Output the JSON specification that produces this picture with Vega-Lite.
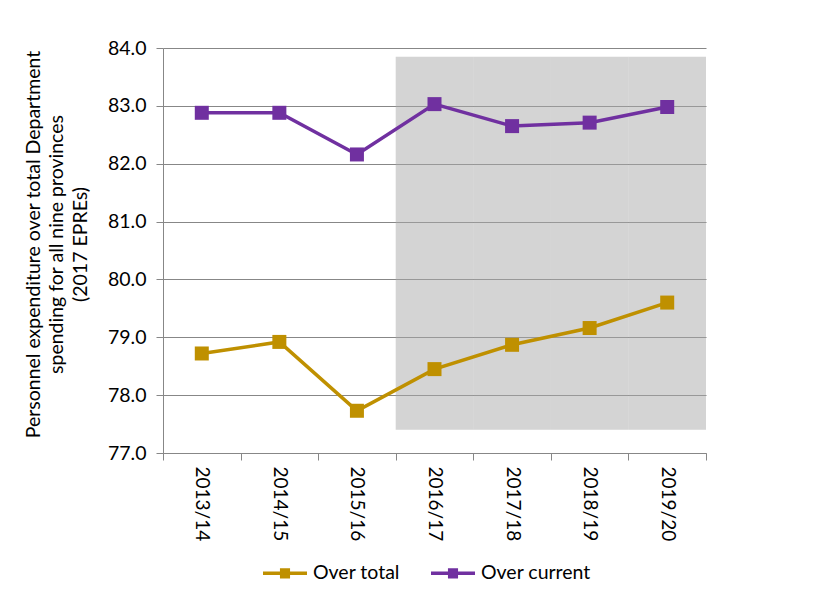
{
  "$schema": "https://vega.github.io/schema/vega-lite/v6.json",
  "width": 543,
  "height": 405,
  "autosize": "none",
  "padding": {"left": 163, "top": 48, "right": 123, "bottom": 143},
  "background": "white",
  "config": {
    "font": "Lato",
    "view": {"stroke": null},
    "axis": {
      "domainColor": "#878787",
      "tickColor": "#878787",
      "gridColor": "#878787",
      "gridOpacity": 1,
      "labelColor": "#000000",
      "titleColor": "#000000",
      "labelFontSize": 19.5,
      "labelFont": "Lato"
    }
  },
  "datasets": {
    "series": [
      {"year": "2013/14", "series": "Over total", "value": 78.72},
      {"year": "2014/15", "series": "Over total", "value": 78.92},
      {"year": "2015/16", "series": "Over total", "value": 77.73},
      {"year": "2016/17", "series": "Over total", "value": 78.45},
      {"year": "2017/18", "series": "Over total", "value": 78.87},
      {"year": "2018/19", "series": "Over total", "value": 79.16},
      {"year": "2019/20", "series": "Over total", "value": 79.6},
      {"year": "2013/14", "series": "Over current", "value": 82.88},
      {"year": "2014/15", "series": "Over current", "value": 82.88},
      {"year": "2015/16", "series": "Over current", "value": 82.16},
      {"year": "2016/17", "series": "Over current", "value": 83.03},
      {"year": "2017/18", "series": "Over current", "value": 82.65},
      {"year": "2018/19", "series": "Over current", "value": 82.71},
      {"year": "2019/20", "series": "Over current", "value": 82.98}
    ],
    "projection": [
      {"year": "2016/17"},
      {"year": "2017/18"},
      {"year": "2018/19"},
      {"year": "2019/20"}
    ]
  },
  "encoding": {
    "x": {
      "field": "year",
      "type": "nominal",
      "sort": null,
      "scale": {
        "type": "band",
        "paddingInner": 0,
        "paddingOuter": 0,
        "domain": ["2013/14", "2014/15", "2015/16", "2016/17", "2017/18", "2018/19", "2019/20"]
      },
      "axis": {
        "title": null,
        "labelAngle": 90,
        "labelFontSize": 19,
        "tickBand": "extent",
        "tickSize": 7,
        "labelPadding": 6,
        "grid": false
      }
    }
  },
  "layer": [
    {
      "data": {"name": "projection"},
      "mark": {"type": "rect", "fill": "#aaaaaa", "opacity": 0.5},
      "encoding": {
        "y": {"datum": 77.4, "type": "quantitative"},
        "y2": {"datum": 83.85}
      }
    },
    {
      "data": {"name": "series"},
      "mark": {
        "type": "line",
        "strokeWidth": 3.5,
        "point": {"shape": "square", "size": 196, "filled": true, "opacity": 1}
      },
      "encoding": {
        "y": {
          "field": "value",
          "type": "quantitative",
          "scale": {"domain": [77, 84], "nice": false, "zero": false},
          "axis": {
            "grid": true,
            "values": [77, 78, 79, 80, 81, 82, 83, 84],
            "format": ".1f",
            "tickSize": 7,
            "labelPadding": 10,
            "title": [
              "Personnel expenditure over total Department",
              "spending for all nine provinces",
              "(2017 EPREs)"
            ],
            "titleFont": "Lato",
            "titleFontSize": 19.5,
            "titleFontWeight": "normal",
            "titleLineHeight": 23.5,
            "titleAngle": -90,
            "titleAlign": "center",
            "titleBaseline": "middle",
            "titleX": -130,
            "titleY": 196
          }
        },
        "color": {
          "field": "series",
          "type": "nominal",
          "sort": ["Over total", "Over current"],
          "scale": {"domain": ["Over total", "Over current"], "range": ["#bf9000", "#7030a0"]},
          "legend": {
            "title": null,
            "orient": "none",
            "direction": "horizontal",
            "legendX": 98,
            "legendY": 501,
            "labelFontSize": 19.5,
            "labelFont": "Lato",
            "labelColor": "#000000",
            "labelOffset": 4,
            "columnPadding": 24,
            "symbolType": "M-1,0H1M-0.15,-0.15H0.15V0.15H-0.15Z",
            "symbolSize": 1936,
            "symbolStrokeWidth": 3.5,
            "symbolOpacity": 1
          }
        }
      }
    }
  ]
}
